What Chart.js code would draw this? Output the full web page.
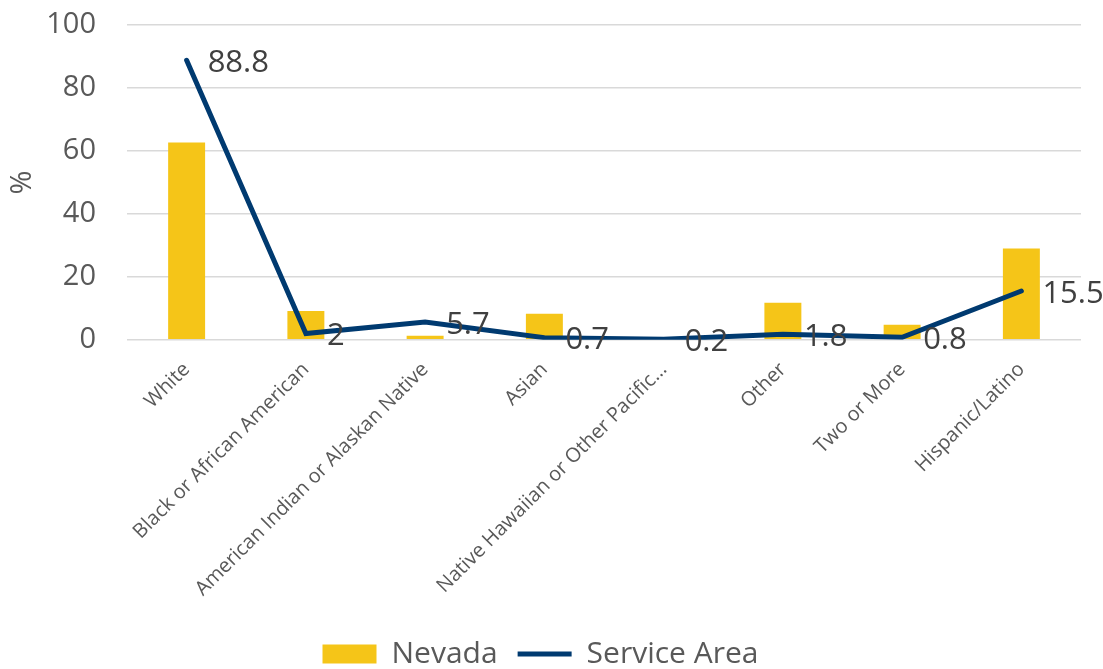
<!DOCTYPE html>
<html>
<head>
<meta charset="utf-8">
<script src="https://cdn.jsdelivr.net/npm/chart.js@4"></script>
<style>
  html, body { margin: 0; padding: 0; background: #fff; }
</style>
</head>
<body>
<canvas id="chart-1" width="1103" height="669"></canvas>
<script>
const categories = ['White', 'Black or African American', 'American Indian or Alaskan Native', 'Asian', 'Native Hawaiian or Other Pacific…', 'Other', 'Two or More', 'Hispanic/Latino']
const nevada = [62.7, 9.2, 1.3, 8.3, 0.6, 11.8, 4.8, 29.0]
const serviceArea = [88.8, 2, 5.7, 0.7, 0.2, 1.8, 0.8, 15.5]
const yTicks = [0, 20, 40, 60, 80, 100]

const FONT = "'Open Sans', 'Noto Sans', sans-serif"

// value labels to the right of each line point
const lineLabels = {
  id: 'lineLabels',
  afterDatasetsDraw(chart) {
    const meta = chart.getDatasetMeta(1)
    const ctx = chart.ctx
    ctx.save()
    ctx.font = '31px ' + FONT
    ctx.fillStyle = '#404040'
    ctx.textAlign = 'left'
    ctx.textBaseline = 'middle'
    meta.data.forEach((pt, i) => {
      ctx.fillText(String(serviceArea[i]), pt.x + 21, pt.y + 3)
    })
    ctx.restore()
  }
}

const ctx = document.getElementById('chart-1').getContext('2d')
new Chart(ctx, {
  type: 'bar',
  data: {
    labels: categories,
    datasets: [{
      type: 'bar',
      label: 'Nevada',
      data: nevada,
      backgroundColor: '#F5C518',
      categoryPercentage: 1,
      barPercentage: 0.31,
      order: 2,
      pointStyle: 'rect'
    }, {
      type: 'line',
      label: 'Service Area',
      data: serviceArea,
      borderColor: '#003A70',
      backgroundColor: '#003A70',
      borderWidth: 5,
      borderCapStyle: 'round',
      pointRadius: 0,
      tension: 0,
      order: 1,
      pointStyle: 'line'
    }]
  },
  options: {
    responsive: false,
    animation: false,
    layout: { padding: { left: 0, right: 22, top: 0, bottom: -10 } },
    plugins: {
      tooltip: { enabled: false },
      legend: {
        position: 'bottom',
        labels: {
          usePointStyle: true,
          pointStyleWidth: 54,
          boxHeight: 19,
          padding: 20,
          color: '#595959',
          font: { family: FONT, size: 30 },
          sort: (a, b) => a.datasetIndex - b.datasetIndex
        }
      }
    },
    scales: {
      x: {
        grid: { display: false },
        border: { display: false },
        afterFit: (axis) => { axis.height += 8 },
        ticks: {
          color: '#595959',
          font: { family: FONT, size: 20 },
          maxRotation: 45,
          minRotation: 45,
          autoSkip: false,
          padding: 10
        }
      },
      y: {
        min: 0,
        max: 100,
        afterBuildTicks: (axis) => { axis.ticks = yTicks.map(v => ({ value: v })) },
        afterFit: (axis) => {
          axis.width = 127
          axis.paddingTop = 25
          axis.paddingBottom = 10
        },
        grid: { color: '#D9D9D9', lineWidth: 1.5, drawTicks: false },
        border: { display: false },
        title: {
          display: true,
          text: '%',
          color: '#595959',
          font: { family: FONT, size: 29 },
          padding: { top: 5, bottom: 0 }
        },
        ticks: {
          color: '#595959',
          font: { family: FONT, size: 29 },
          padding: 31
        }
      }
    }
  },
  plugins: [lineLabels]
})
</script>
</body>
</html>
